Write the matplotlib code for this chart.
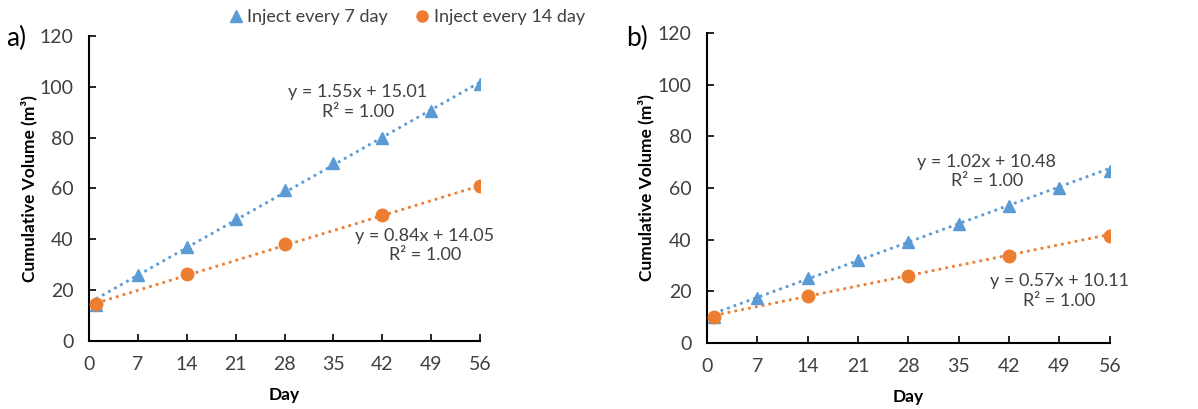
import numpy as np
import matplotlib
matplotlib.use('Agg')
import matplotlib.pyplot as plt
from matplotlib.lines import Line2D

plt.rcParams['font.family'] = ['Lato', 'DejaVu Sans']

# data
days_7 = [1, 7, 14, 21, 28, 35, 42, 49, 56]
days_14 = [1, 14, 28, 42, 56]

a_vol_7 = [14, 26, 37, 48, 59.5, 70, 80, 90.5, 101]
a_vol_14 = [14.5, 26.5, 38, 49.5, 61]
b_vol_7 = [10, 17.5, 25, 32, 39, 46, 53, 60, 66.5]
b_vol_14 = [10, 18, 26, 33.5, 41.5]

# trendline coefficients (slope, intercept) shown on the chart
a_fit_7 = (1.55, 15.01)
a_fit_14 = (0.84, 14.05)
b_fit_7 = (1.02, 10.48)
b_fit_14 = (0.57, 10.11)

blue = '#5B9BD5'
orange = '#ED7D31'
txt = '#404040'

fig = plt.figure(figsize=(11.98, 4.09), dpi=100)
ax_a = fig.add_axes([0.0743, 0.1663, 0.3264, 0.7457])
ax_b = fig.add_axes([0.590, 0.1614, 0.3364, 0.758])


def draw(ax, v7, v14, f7, f14, pos7, pos14):
    xl = np.array([1, 56])
    ax.plot(xl, f7[0] * xl + f7[1], ls=(0, (1, 1.5)), color=blue, lw=2)
    ax.plot(xl, f14[0] * xl + f14[1], ls=(0, (1, 1.5)), color=orange, lw=2)
    ax.plot(days_7, v7, '^', color=blue, ms=9, ls='none', zorder=3)
    ax.plot(days_14, v14, 'o', color=orange, ms=9, ls='none', zorder=4)
    ax.text(pos7[0], pos7[1], f"y = {f7[0]:.2f}x + {f7[1]:.2f}\nR² = 1.00",
            ha='center', va='center', fontsize=13, color=txt, linespacing=1.25)
    ax.text(pos14[0], pos14[1], f"y = {f14[0]:.2f}x + {f14[1]:.2f}\nR² = 1.00",
            ha='center', va='center', fontsize=13, color=txt, linespacing=1.25)
    ax.set_xlim(0, 56)
    ax.set_ylim(0, 120)
    ax.set_xticks(range(0, 57, 7))
    ax.set_yticks(range(0, 121, 20))
    ax.spines['top'].set_visible(False)
    ax.spines['right'].set_visible(False)
    ax.spines['left'].set_linewidth(1.5)
    ax.spines['bottom'].set_linewidth(1.5)
    ax.tick_params(direction='in', length=5, width=1.2, labelsize=14, labelcolor=txt, pad=11)
    ax.set_xlabel('Day', fontsize=12.5, fontweight='bold', labelpad=10)
    ax.set_ylabel('Cumulative Volume (m³)', fontsize=12.5, fontweight='bold', labelpad=2)
    for lab in ax.get_xticklabels() + ax.get_yticklabels():
        lab.set_clip_on(False)


draw(ax_a, a_vol_7, a_vol_14, a_fit_7, a_fit_14, (38.5, 94), (48.1, 37.5))
draw(ax_b, b_vol_7, b_vol_14, b_fit_7, b_fit_14, (38.9, 66.3), (49.0, 20.1))

fig.text(0.005, 0.905, 'a)', fontsize=19, color='black', va='center')
fig.text(0.523, 0.905, 'b)', fontsize=19, color='black', va='center')

handles = [Line2D([], [], marker='^', color=blue, ls='none', ms=8),
           Line2D([], [], marker='o', color=orange, ls='none', ms=8)]
fig.legend(handles, ['Inject every 7 day', 'Inject every 14 day'],
           loc='center', bbox_to_anchor=(0.338, 0.958), ncol=2, frameon=False,
           fontsize=13, handletextpad=0.05, columnspacing=1.3, labelcolor=txt,
           handlelength=1.2)

fig.savefig('out.png', dpi=100)
